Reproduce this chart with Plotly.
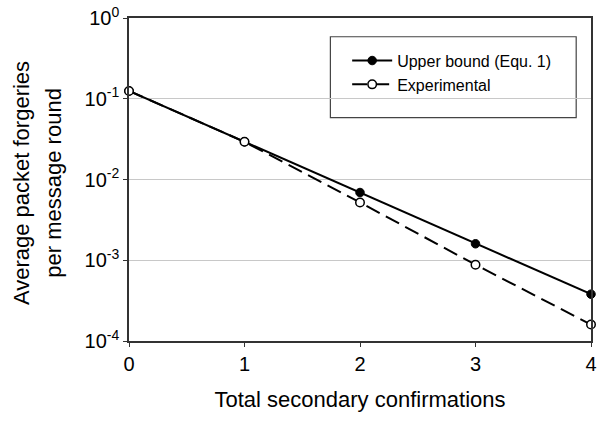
import plotly.graph_objects as go

# Data
confirmations = [0, 1, 2, 3, 4]
upper_bound = [0.125, 0.0293, 0.0069, 0.0016, 0.00038]
experimental = [0.125, 0.0293, 0.0052, 0.00088, 0.00016]
y_tick_vals = [1, 0.1, 0.01, 0.001, 0.0001]
y_tick_text = ["10<sup>0</sup>", "10<sup>-1</sup>", "10<sup>-2</sup>", "10<sup>-3</sup>", "10<sup>-4</sup>"]
x_tick_vals = [0, 1, 2, 3, 4]

W, H = 601, 423
L, R, T, B = 129, 597, 14, 341.5

def px_x(p):
    return (p - L) / (R - L)

def px_y(p):
    return (B - p) / (B - T)

fig = go.Figure()
fig.add_trace(go.Scatter(
    x=confirmations, y=upper_bound, name="Upper bound (Equ. 1)",
    mode="lines+markers", cliponaxis=False,
    line=dict(color="black", width=2),
    marker=dict(symbol="circle", size=8.5, color="black", line=dict(color="black", width=1)),
))
fig.add_trace(go.Scatter(
    x=confirmations, y=experimental, name="Experimental",
    mode="lines+markers", cliponaxis=False,
    line=dict(color="black", width=2, dash="15px,7px"),
    marker=dict(symbol="circle", size=8.5, color="white", line=dict(color="black", width=1.5)),
))

font_family = "Liberation Sans, Arial, sans-serif"

fig.update_layout(
    width=W, height=H,
    margin=dict(l=L, r=W - R, t=T, b=H - B, pad=0),
    paper_bgcolor="white", plot_bgcolor="white",
    font=dict(family=font_family, color="black", size=20),
    showlegend=True,
    legend=dict(
        x=px_x(350), y=px_y(40), xanchor="left", yanchor="top",
        bgcolor="rgba(0,0,0,0)", borderwidth=0,
        font=dict(size=16, family=font_family),
        itemwidth=40, tracegroupgap=0,
    ),
    xaxis=dict(
        range=[0, 4], tickvals=x_tick_vals, ticks="outside", ticklen=4,
        tickcolor="#333", linecolor="#333", linewidth=1.5, mirror=True,
        showgrid=False, zeroline=False, ticklabeloverflow="allow",
        tickfont=dict(size=20),
        title=dict(text="Total secondary confirmations", font=dict(size=22), standoff=18),
    ),
    yaxis=dict(
        type="log", range=[-4, 0], tickvals=y_tick_vals, ticktext=y_tick_text,
        ticks="outside", ticklen=4, tickcolor="#333",
        linecolor="#333", linewidth=1.5, mirror=True,
        showgrid=True, gridcolor="#c8c8c8", gridwidth=1.2,
        zeroline=False, tickfont=dict(size=20), ticklabeloverflow="allow",
    ),
    shapes=[dict(
        type="rect", xref="paper", yref="paper",
        x0=px_x(333), x1=px_x(582), y0=px_y(115), y1=px_y(33),
        line=dict(color="#444", width=1.2), fillcolor="white", layer="between",
    )],
    annotations=[
        dict(text="Average packet forgeries", xref="paper", yref="paper",
             x=px_x(20), y=px_y(181), textangle=-90, showarrow=False,
             xanchor="center", yanchor="middle", font=dict(size=22)),
        dict(text="per message round", xref="paper", yref="paper",
             x=px_x(53), y=px_y(181), textangle=-90, showarrow=False,
             xanchor="center", yanchor="middle", font=dict(size=22)),
    ],
)

fig.write_html(
    "out.html",
    config={"displayModeBar": False},
    post_script="document.body.style.margin='0';document.body.style.overflow='hidden';",
)
